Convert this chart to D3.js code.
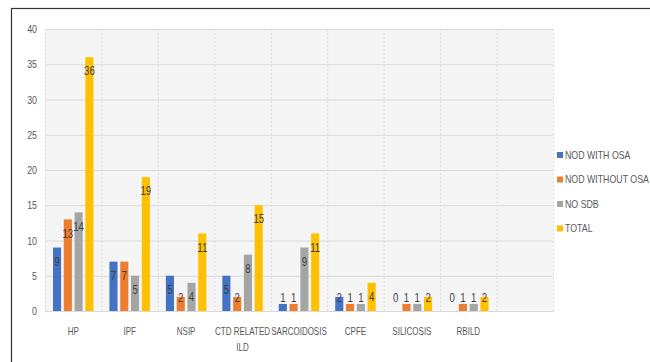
<!DOCTYPE html>
<html>
<head>
<meta charset="utf-8">
<script src="https://cdn.jsdelivr.net/npm/d3@7"></script>
<style>
  body { margin: 0; background: #fff; }
  text { font-family: "Liberation Sans", Arial, sans-serif; fill: #404040; }
</style>
</head>
<body>
<div id="chart"></div>
<script>
// chart values
var categories = ["HP", "IPF", "NSIP", "CTD RELATED ILD", "SARCOIDOSIS", "CPFE", "SILICOSIS", "RBILD", ""];
var seriesNames = ["NOD WITH OSA", "NOD WITHOUT OSA", "NO SDB", "TOTAL"];
var nodWithOsa = [9, 7, 5, 5, 1, 2, 0, 0];
var nodWithoutOsa = [13, 7, 2, 2, 1, 1, 1, 1];
var noSdb = [14, 5, 4, 8, 9, 1, 1, 1];
var total = [36, 19, 11, 15, 11, 4, 2, 2];
var yTicks = [0, 5, 10, 15, 20, 25, 30, 35, 40];

var colors = ["#4472C4", "#ED7D31", "#A5A5A5", "#FFC000"];
var allSeries = [nodWithOsa, nodWithoutOsa, noSdb, total];

var svgWidth = 650;
var svgHeight = 362;
var squeeze = 0.8; // the font in the picture is narrow

var chartMargin = { top: 29, right: 97, bottom: 51, left: 45 };
var width = svgWidth - chartMargin.left - chartMargin.right;
var height = svgHeight - chartMargin.top - chartMargin.bottom;

var svg = d3.select("#chart").append("svg")
  .attr("width", svgWidth)
  .attr("height", svgHeight);

// outer frame
svg.append("rect")
  .attr("x", 11.5).attr("y", 8.5)
  .attr("width", 700).attr("height", 400)
  .attr("fill", "none").attr("stroke", "#333").attr("stroke-width", 1.2);

var chartGroup = svg.append("g")
  .attr("transform", `translate(${chartMargin.left}, ${chartMargin.top})`);

var x0 = d3.scaleBand().domain(categories).range([0, width]);
var x1 = d3.scaleBand().domain(d3.range(4)).range([8, x0.bandwidth() - 8]).paddingInner(0.25);
var y = d3.scaleLinear().domain([0, 40]).range([height, 0]);

// plot background
chartGroup.append("rect")
  .attr("width", width).attr("height", height)
  .attr("fill", "#f5f5f5");

// horizontal grid
chartGroup.append("g").selectAll("line")
  .data(yTicks)
  .enter().append("line")
  .attr("x1", 0).attr("x2", width)
  .attr("y1", d => y(d) + 0.5).attr("y2", d => y(d) + 0.5)
  .attr("stroke", "#d9d9d9").attr("stroke-width", 1);

// vertical grid
chartGroup.append("g").selectAll("line")
  .data(categories.map(c => x0(c)).concat([width]))
  .enter().append("line")
  .attr("x1", d => d + 0.5).attr("x2", d => d + 0.5)
  .attr("y1", 0).attr("y2", height)
  .attr("stroke", "#dcdcdc").attr("stroke-dasharray", "2,2");

// y axis labels
var leftAxis = d3.axisLeft(y).tickValues(yTicks).tickSize(0).tickPadding(0);
var yAxis = chartGroup.append("g").call(leftAxis);
yAxis.select(".domain").remove();
yAxis.selectAll("text").attr("font-size", 11).style("fill", "#595959")
  .attr("x", 0)
  .attr("transform", `translate(-8, 0) scale(${squeeze}, 1)`);

// x axis labels
var bottomAxis = d3.axisBottom(x0).tickSize(0).tickPadding(17);
var xAxis = chartGroup.append("g")
  .attr("transform", `translate(0, ${height})`)
  .call(bottomAxis);
xAxis.select(".domain").attr("stroke", "#d9d9d9");
xAxis.selectAll("text").attr("font-size", 10).style("fill", "#595959")
  .attr("transform", `scale(${squeeze}, 1)`)
  .each(function (d) {
    if (d === "CTD RELATED ILD") {
      var t = d3.select(this).text(null);
      t.append("tspan").attr("x", 0).attr("dy", "0.71em").text("CTD RELATED");
      t.append("tspan").attr("x", 0).attr("dy", "1.6em").text("ILD");
      t.attr("dy", null);
    }
  });

// bars
var bars = [];
allSeries.forEach(function (vals, s) {
  vals.forEach(function (v, i) {
    bars.push({ s: s, cat: categories[i], v: v });
  });
});

var groups = chartGroup.append("g");
groups.selectAll("rect")
  .data(bars)
  .enter().append("rect")
  .attr("x", d => x0(d.cat) + x1(d.s))
  .attr("y", d => y(d.v))
  .attr("width", x1.bandwidth())
  .attr("height", d => height - y(d.v))
  .attr("fill", d => colors[d.s]);

groups.selectAll("text")
  .data(bars)
  .enter().append("text")
  .attr("transform", d => `translate(${x0(d.cat) + x1(d.s) + x1.bandwidth() / 2}, ${Math.min(y(d.v) + 14, height - 13)}) scale(${squeeze}, 1)`)
  .attr("dy", "0.35em")
  .attr("text-anchor", "middle")
  .attr("font-size", 12)
  .text(d => d.v);

// legend
var legend = svg.append("g").attr("transform", "translate(557, 155)");
seriesNames.forEach(function (name, i) {
  var row = legend.append("g").attr("transform", `translate(0, ${i * 24.5})`);
  row.append("rect").attr("x", 0).attr("y", -3).attr("width", 6).attr("height", 6).attr("fill", colors[i]);
  row.append("text").attr("transform", `translate(8, 0) scale(${squeeze}, 1)`).attr("dy", "0.35em")
    .attr("font-size", 11).style("fill", "#595959").text(name);
});
</script>
</body>
</html>
